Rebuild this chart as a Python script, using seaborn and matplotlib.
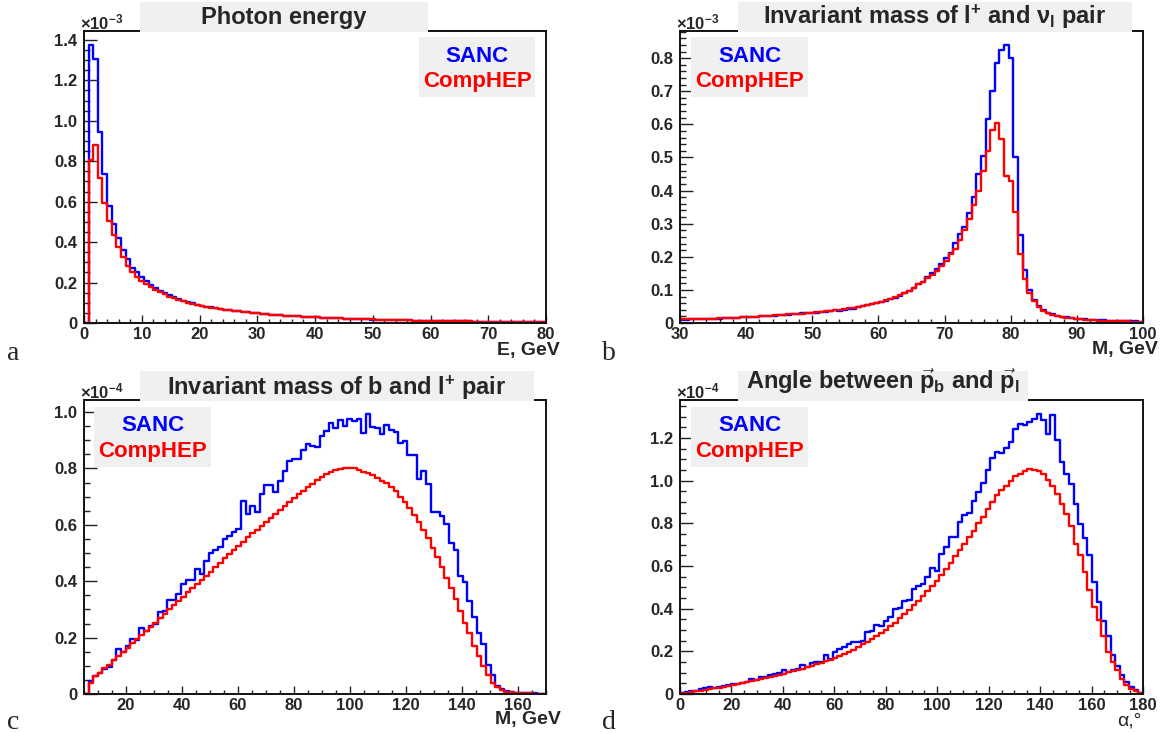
import numpy as np
import pandas as pd
import seaborn as sns
import matplotlib.pyplot as plt
from matplotlib.patches import Rectangle
from matplotlib.ticker import MultipleLocator, FuncFormatter

W, H = 1160, 733
BLUE = "#0000ff"
RED = "#ff0000"
BOX_GRAY = "#f0f0f0"

# ---- a: photon energy, 100 bins on [0, 80], units of 1e-3
photon_range = (0, 80)
photon_sanc = [
    0.0, 1.375, 1.305, 0.944, 0.736, 0.580, 0.489, 0.419, 0.361, 0.317,
    0.274, 0.250, 0.228, 0.207, 0.189, 0.173, 0.160, 0.148, 0.137, 0.127,
    0.119, 0.111, 0.104, 0.097, 0.091,
    0.085, 0.081, 0.077, 0.073, 0.069, 0.066, 0.063, 0.060, 0.057, 0.055,
    0.052, 0.050, 0.048, 0.046, 0.044, 0.042, 0.041, 0.039, 0.037, 0.036,
    0.034, 0.033, 0.032, 0.030, 0.029, 0.028, 0.027, 0.026, 0.025, 0.024,
    0.023, 0.022, 0.021, 0.020, 0.020, 0.019, 0.018, 0.017, 0.017, 0.016,
    0.015, 0.015, 0.014, 0.014, 0.013, 0.013, 0.012, 0.012, 0.011, 0.011,
    0.010, 0.010, 0.0095, 0.009, 0.0088, 0.0085, 0.008, 0.0078, 0.0075, 0.0072,
    0.007, 0.0068, 0.0065, 0.0062, 0.006, 0.0058, 0.0055, 0.0053, 0.005, 0.0048,
    0.0046, 0.0044, 0.0042, 0.004, 0.0038,
]
photon_comphep = [
    0.0, 0.807, 0.880, 0.716, 0.593, 0.505, 0.434, 0.375, 0.328, 0.282,
    0.254, 0.228, 0.208, 0.192, 0.177, 0.164, 0.152, 0.141, 0.131, 0.122,
    0.114, 0.107, 0.100, 0.094, 0.089,
    0.084, 0.080, 0.076, 0.072, 0.069, 0.066, 0.062, 0.060, 0.057, 0.054,
    0.052, 0.050, 0.047, 0.045, 0.044, 0.042, 0.040, 0.039, 0.037, 0.035,
    0.034, 0.033, 0.031, 0.030, 0.029, 0.028, 0.027, 0.026, 0.025, 0.024,
    0.023, 0.022, 0.021, 0.021, 0.020, 0.019, 0.018, 0.018, 0.017, 0.016,
    0.016, 0.015, 0.014, 0.014, 0.013, 0.013, 0.012, 0.012, 0.011, 0.011,
    0.010, 0.010, 0.0098, 0.0094, 0.009, 0.0086, 0.0083, 0.008, 0.0077, 0.0074,
    0.0071, 0.0068, 0.0066, 0.0063, 0.0061, 0.0059, 0.0057, 0.0054, 0.0052, 0.005,
    0.0048, 0.0046, 0.0044, 0.0042, 0.004,
]

# ---- b: M(l+ nu), 100 bins on [30, 100], units of 1e-3
mlnu_range = (30, 100)
mlnu_sanc = [
    0.010, 0.010, 0.011, 0.011, 0.011, 0.012, 0.012, 0.013, 0.013, 0.014,
    0.014, 0.015, 0.016, 0.019,
    0.017, 0.018, 0.019, 0.020, 0.021, 0.022, 0.022, 0.023, 0.024, 0.025,
    0.026, 0.027, 0.031, 0.029,
    0.030, 0.031, 0.033, 0.034, 0.036, 0.038, 0.036, 0.040, 0.042, 0.043,
    0.048, 0.050, 0.053, 0.056, 0.060, 0.063, 0.067, 0.072, 0.077, 0.083,
    0.090, 0.098,
    0.105, 0.118, 0.125, 0.140, 0.150, 0.163, 0.177,
    0.197, 0.212, 0.242, 0.268, 0.290, 0.331, 0.381, 0.449, 0.503, 0.617,
    0.700, 0.786, 0.825, 0.840, 0.800, 0.500,
    0.265, 0.160, 0.100, 0.068, 0.050, 0.038, 0.031, 0.026, 0.022, 0.019,
    0.017, 0.015, 0.013, 0.012, 0.011, 0.010, 0.009, 0.0085, 0.008, 0.0075,
    0.007, 0.0065, 0.006, 0.0055, 0.005, 0.0048, 0.0045,
]
mlnu_comphep = [
    0.011, 0.011, 0.011, 0.012, 0.012, 0.012, 0.013, 0.013, 0.014, 0.014,
    0.015, 0.015, 0.016, 0.017,
    0.017, 0.018, 0.019, 0.020, 0.021, 0.022, 0.023, 0.024, 0.025, 0.026,
    0.026, 0.027, 0.028, 0.029,
    0.030, 0.032, 0.033, 0.035, 0.036, 0.038, 0.040, 0.042, 0.044, 0.046,
    0.049, 0.052, 0.055, 0.058, 0.061, 0.064, 0.069, 0.074, 0.079, 0.084,
    0.091, 0.096,
    0.107, 0.118, 0.125, 0.135, 0.145, 0.158, 0.173,
    0.187, 0.207, 0.223, 0.250, 0.280, 0.313, 0.356, 0.400, 0.459, 0.520,
    0.582, 0.604, 0.557, 0.443, 0.429, 0.336,
    0.208, 0.132, 0.092, 0.065, 0.048, 0.037, 0.030, 0.025, 0.021, 0.018,
    0.016, 0.014, 0.012, 0.011, 0.010, 0.009, 0.008, 0.0075, 0.007, 0.0065,
    0.006, 0.0055, 0.005, 0.0048, 0.0045, 0.0042, 0.004,
]

# ---- c: M(b l+), 100 bins on [5, 170], units of 1e-4
mbl_range = (5, 170)
mbl_sanc = [
    0.0,
    0.045, 0.065, 0.075, 0.09, 0.095, 0.12, 0.16, 0.15, 0.17, 0.195,
    0.19, 0.235, 0.225, 0.24, 0.25, 0.29, 0.295, 0.335, 0.335, 0.355,
    0.39, 0.405, 0.405, 0.445, 0.425, 0.47, 0.50, 0.51, 0.52, 0.55,
    0.56, 0.575, 0.585, 0.685, 0.64, 0.665, 0.645, 0.71, 0.74, 0.74,
    0.715, 0.755, 0.79, 0.825, 0.835, 0.835, 0.865, 0.885, 0.88,
    0.877, 0.915, 0.934, 0.960, 0.942, 0.972, 0.950, 0.975, 0.968, 0.975,
    0.924, 0.993, 0.946, 0.942, 0.921, 0.954, 0.936, 0.928, 0.891, 0.897,
    0.848, 0.848, 0.762, 0.790, 0.743, 0.647, 0.644, 0.632, 0.603, 0.537,
    0.511, 0.420, 0.398, 0.331, 0.272, 0.215, 0.177, 0.103, 0.067, 0.028,
    0.017, 0.011, 0.007, 0.005,
    0.004, 0.003, 0.002, 0.002, 0.001, 0.001,
]
mbl_comphep = [
    0.0,
    0.04, 0.064, 0.076, 0.091, 0.103, 0.12, 0.135, 0.15, 0.164, 0.18,
    0.194, 0.209, 0.223, 0.239, 0.253, 0.268, 0.284, 0.30, 0.316, 0.33,
    0.345, 0.36, 0.375, 0.389, 0.404, 0.418, 0.434, 0.45, 0.466, 0.481,
    0.495, 0.51, 0.526, 0.54, 0.556, 0.57, 0.58, 0.596, 0.611, 0.625,
    0.64, 0.652, 0.667, 0.68, 0.694, 0.708, 0.721, 0.735, 0.745,
    0.760, 0.770, 0.779, 0.787, 0.794, 0.798, 0.800, 0.802, 0.800, 0.795,
    0.789, 0.785, 0.777, 0.767, 0.757, 0.747, 0.735, 0.721, 0.700, 0.682,
    0.660, 0.635, 0.611, 0.580, 0.552, 0.517, 0.487, 0.452, 0.410, 0.375,
    0.337, 0.296, 0.253, 0.215, 0.171, 0.135, 0.099, 0.067, 0.040, 0.024,
    0.014, 0.008, 0.006, 0.004,
    0.003, 0.002, 0.002, 0.001, 0.001, 0.001,
]

# ---- d: angle between p_b and p_l, 100 bins on [0, 180], units of 1e-4
angle_range = (0, 180)
angle_sanc = [
    0.004, 0.008, 0.012, 0.016, 0.022, 0.028, 0.031, 0.030, 0.034, 0.038,
    0.044, 0.046, 0.048, 0.052, 0.056, 0.072, 0.066, 0.078, 0.080, 0.088,
    0.094, 0.097, 0.113, 0.105, 0.113, 0.118, 0.136, 0.128, 0.147, 0.152,
    0.150, 0.183, 0.165, 0.199, 0.210, 0.222, 0.235, 0.245, 0.242, 0.250,
    0.290, 0.295, 0.322, 0.318, 0.340, 0.360, 0.400, 0.405, 0.437,
    0.439, 0.49, 0.506, 0.517, 0.549, 0.591, 0.575, 0.655, 0.69, 0.737,
    0.737, 0.804, 0.839, 0.85, 0.906, 0.945, 0.987, 1.05, 1.105, 1.133,
    1.128, 1.152, 1.183, 1.243, 1.266, 1.262, 1.276, 1.288, 1.312, 1.285,
    1.219, 1.307, 1.19, 1.089, 1.031, 0.983, 0.89, 0.796, 0.729, 0.65,
    0.525, 0.431, 0.342, 0.274, 0.185, 0.13, 0.089, 0.055, 0.031, 0.019,
    0.006,
]
angle_comphep = [
    0.003, 0.006, 0.009, 0.012, 0.015, 0.019, 0.022, 0.026, 0.030, 0.034,
    0.039, 0.043, 0.047, 0.052, 0.056, 0.061, 0.066, 0.070, 0.075, 0.080,
    0.085, 0.090, 0.095, 0.101, 0.107, 0.113, 0.119, 0.126, 0.133, 0.139,
    0.146, 0.153, 0.160, 0.168, 0.177, 0.187, 0.197, 0.208, 0.220, 0.232,
    0.245, 0.258, 0.272, 0.287, 0.302, 0.318, 0.335, 0.355, 0.375,
    0.395, 0.415, 0.436, 0.458, 0.483, 0.506, 0.53, 0.556, 0.588, 0.614,
    0.646, 0.674, 0.702, 0.734, 0.763, 0.80, 0.831, 0.865, 0.901, 0.933,
    0.956, 0.975, 1.0, 1.022, 1.031, 1.045, 1.055, 1.05, 1.045, 1.031,
    1.003, 0.976, 0.936, 0.89, 0.842, 0.787, 0.705, 0.65, 0.572, 0.486,
    0.41, 0.345, 0.271, 0.196, 0.152, 0.113, 0.071, 0.042, 0.024, 0.013,
    0.003,
]

# layout of each pad, in pixels from the top-left corner
PANELS = [
    dict(data=(photon_range, photon_sanc, photon_comphep),
         frame=(84, 31, 546, 323), xmaj=10, xmin=2, ymaj=0.2, ymin=0.05,
         title="Photon energy", title_box=(140, 2, 428, 32), title_y=24,
         legend_box=(419, 37, 535, 97), exp="-3", exp_xy=(80, 29),
         letter="a", letter_xy=(7, 360), xlabel="E, GeV", xlabel_xy=(560, 355)),
    dict(data=(mlnu_range, mlnu_sanc, mlnu_comphep),
         frame=(680, 31, 1143, 323), xmaj=10, xmin=2, ymaj=0.1, ymin=0.02,
         title=r"Invariant mass of l$^{+}$ and $\nu_{l}$ pair",
         title_box=(738, 2, 1132, 32), title_y=24,
         legend_box=(691, 37, 808, 97), exp="-3", exp_xy=(676, 29),
         letter="b", letter_xy=(602, 360), xlabel="M, GeV", xlabel_xy=(1158, 354)),
    dict(data=(mbl_range, mbl_sanc, mbl_comphep),
         frame=(84, 400, 546, 694), xmaj=20, xmin=5, ymaj=0.2, ymin=0.05,
         title=r"Invariant mass of b and l$^{+}$ pair",
         title_box=(140, 371, 534, 401), title_y=395,
         legend_box=(94, 407, 211, 467), exp="-4", exp_xy=(80, 398),
         letter="c", letter_xy=(7, 729), xlabel="M, GeV", xlabel_xy=(561, 724)),
    dict(data=(angle_range, angle_sanc, angle_comphep),
         frame=(680, 400, 1143, 694), xmaj=20, xmin=5, ymaj=0.2, ymin=0.05,
         title=r"Angle between $\vec{p}_{b}$ and $\vec{p}_{l}$",
         title_box=(738, 371, 1028, 401), title_y=389,
         legend_box=(691, 407, 808, 467), exp="-4", exp_xy=(676, 398),
         letter="d", letter_xy=(602, 729), xlabel="α,°", xlabel_xy=(1142, 726)),
]


def fx(px):
    return px / W


def fy(py):
    return 1 - py / H


def y_fmt(v, _):
    return "0" if abs(v) < 1e-9 else f"{v:.1f}"


def draw_panel(fig, p):
    (lo, hi), sanc, comphep = p["data"]
    x0, y0, x1, y1 = p["frame"]
    ax = fig.add_axes([fx(x0), fy(y1), (x1 - x0) / W, (y1 - y0) / H])

    nbins = len(sanc)
    width = (hi - lo) / nbins
    centers = lo + width * (np.arange(nbins) + 0.5)
    df = pd.DataFrame({"x": centers, "SANC": sanc, "CompHEP": comphep})
    for name, color in (("SANC", BLUE), ("CompHEP", RED)):
        sns.histplot(data=df, x="x", weights=name, bins=nbins, binrange=(lo, hi),
                     element="step", fill=False, color=color, linewidth=1.7, ax=ax)

    ax.set_xlim(lo, hi)
    ax.set_ylim(0, 1.05 * max(max(sanc), max(comphep)))
    ax.set_xlabel("")
    ax.set_ylabel("")
    ax.xaxis.set_major_locator(MultipleLocator(p["xmaj"]))
    ax.xaxis.set_minor_locator(MultipleLocator(p["xmin"]))
    ax.yaxis.set_major_locator(MultipleLocator(p["ymaj"]))
    ax.yaxis.set_minor_locator(MultipleLocator(p["ymin"]))
    ax.yaxis.set_major_formatter(FuncFormatter(y_fmt))
    ax.tick_params(which="both", direction="in", bottom=True, left=True,
                   top=False, right=False, labelsize=12, width=1.0,
                   color="#222222")
    ax.tick_params(axis="y", which="major", length=9, pad=5)
    ax.tick_params(axis="y", which="minor", length=4.5)
    ax.tick_params(axis="x", which="major", length=6, pad=3)
    ax.tick_params(axis="x", which="minor", length=3)
    for s in ax.spines.values():
        s.set_linewidth(1.4)
        s.set_color("#111111")

    # title box on top of the frame
    bx0, by0, bx1, by1 = p["title_box"]
    fig.add_artist(Rectangle((fx(bx0), fy(by1)), (bx1 - bx0) / W, (by1 - by0) / H,
                             transform=fig.transFigure, facecolor=BOX_GRAY,
                             edgecolor="none", zorder=5))
    fig.text(fx((bx0 + bx1) / 2), fy(p["title_y"]), p["title"], ha="center",
             va="baseline", fontsize=17, fontweight="bold", zorder=6)

    # legend box
    lx0, ly0, lx1, ly1 = p["legend_box"]
    fig.add_artist(Rectangle((fx(lx0), fy(ly1)), (lx1 - lx0) / W, (ly1 - ly0) / H,
                             transform=fig.transFigure, facecolor=BOX_GRAY,
                             edgecolor="none", zorder=5))
    cx = fx((lx0 + lx1) / 2)
    fig.text(cx, fy(ly0 + 19), "SANC", color=BLUE, ha="center", va="center",
             fontsize=16, fontweight="bold", zorder=6)
    fig.text(cx, fy(ly0 + 44), "CompHEP", color=RED, ha="center", va="center",
             fontsize=16, fontweight="bold", zorder=6)

    # exponent, axis title, panel letter
    ex, ey = p["exp_xy"]
    fig.text(fx(ex), fy(ey), r"$\mathsf{\times10^{" + p["exp"] + "}}$",
             ha="left", va="baseline", fontsize=12, fontweight="normal")
    lx, ly = p["xlabel_xy"]
    weight = "normal" if p["letter"] == "d" else "bold"
    fig.text(fx(lx), fy(ly), p["xlabel"], ha="right", va="baseline",
             fontsize=14, fontweight=weight)
    tx, ty = p["letter_xy"]
    fig.text(fx(tx), fy(ty), p["letter"], ha="left", va="baseline", fontsize=20,
             fontweight="normal", family=["Liberation Serif", "DejaVu Serif"])


def main():
    sns.set_style("white")
    plt.rcParams["font.family"] = ["Liberation Sans", "DejaVu Sans"]
    plt.rcParams["font.weight"] = "bold"
    plt.rcParams["mathtext.fontset"] = "custom"
    plt.rcParams["mathtext.rm"] = "Liberation Sans:bold"
    plt.rcParams["mathtext.it"] = "Liberation Sans:bold"
    plt.rcParams["mathtext.bf"] = "Liberation Sans:bold"
    plt.rcParams["mathtext.sf"] = "Liberation Sans"

    fig = plt.figure(figsize=(W / 100, H / 100), dpi=100)
    fig.patch.set_facecolor("white")
    for p in PANELS:
        draw_panel(fig, p)
    fig.savefig("out.png", dpi=100, facecolor="white")


if __name__ == "__main__":
    main()
